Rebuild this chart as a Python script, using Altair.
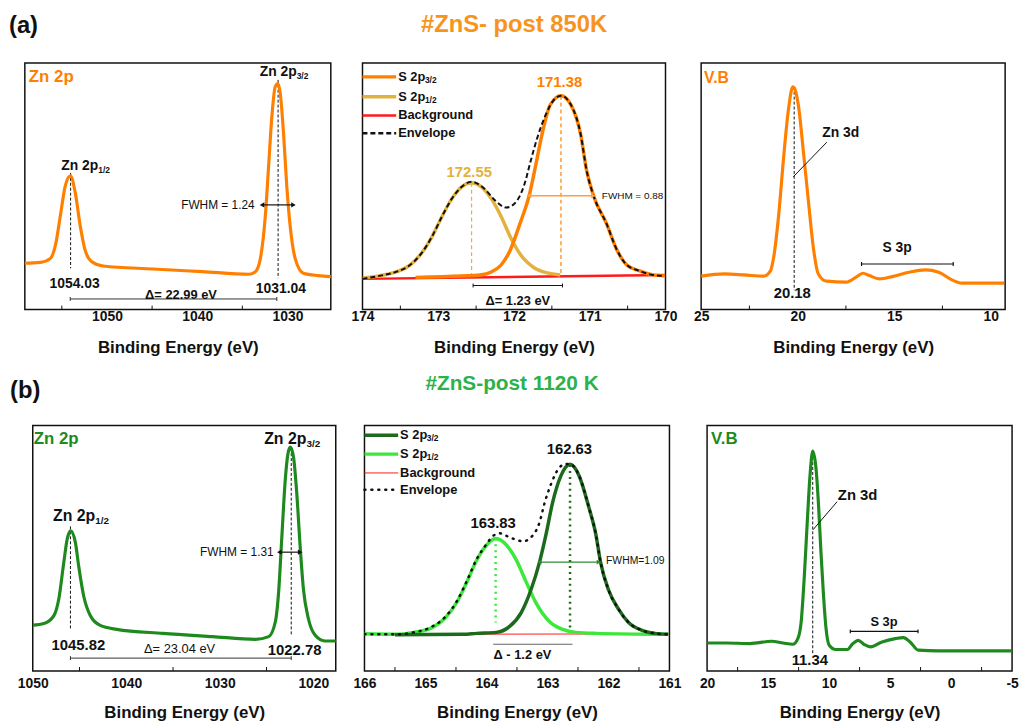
import altair as alt
import pandas as pd

FONT = "Liberation Sans"
BLACK = "#111111"
ORANGE = "#FF8000"
ORANGE_LT = "#F9A04A"
ORANGE_TITLE = "#F7941D"
GOLD = "#E3B13E"
RED = "#FF1A1A"
GREEN = "#1E8A1E"
GREEN_DK = "#1C6B1C"
GREEN_LT = "#3BE83B"
GREEN_TITLE = "#2BB24C"
AX_TITLE = "Binding Energy (eV)"

# ======================= DATA =======================
# ---- (a) #ZnS- post 850K : Zn 2p
a1_energy = [1059.56, 1057.36, 1056.26, 1055.71, 1055.16, 1054.62, 1054.05, 1053.52, 1052.97,
             1052.42, 1051.68, 1050.4, 1044.91, 1039.42, 1034.29, 1033.55, 1033.0, 1032.45,
             1032.09, 1031.73, 1031.36, 1031.06, 1030.8, 1030.44, 1030.08, 1029.71, 1029.15,
             1028.24, 1026.59, 1025.13]
a1_counts = [46.7, 47.7, 51.7, 65, 95, 125, 135, 118.3, 85, 60, 48.3, 44, 41, 38.3, 35.7, 38.3,
             51.7, 95, 145, 195, 225, 228.3, 218.3, 178.3, 125, 85, 51.7, 36.7, 34.3, 33.3]

# ---- (a) S 2p fit
a2_bg_energy = [174.0, 170.0]
a2_bg_counts = [31, 35]
a2_s32_energy = [170.01, 170.17, 170.34, 170.51, 170.64, 170.78, 170.95, 171.04, 171.12, 171.25,
                 171.38, 171.52, 171.63, 171.71, 171.80, 171.92, 172.05, 172.17, 172.30, 172.45,
                 172.69, 173.3]
a2_s32_counts = [34, 35, 39, 45, 60, 87, 115, 140, 177, 207, 216, 207, 177, 147, 115, 87, 60, 45,
                 38, 35, 34, 32.5]
a2_s12_energy = [171.39, 171.56, 171.73, 171.91, 172.04, 172.17, 172.30, 172.43, 172.56, 172.69,
                 172.82, 172.95, 173.08, 173.22, 173.39, 173.56, 173.78, 174.0]
a2_s12_counts = [35, 37, 42, 55, 72, 94, 112, 124, 128, 124, 112, 94, 74, 57, 44, 38, 34, 32]
a2_env_energy = [170.01, 170.17, 170.34, 170.51, 170.64, 170.78, 170.95, 171.04, 171.12, 171.25,
                 171.38, 171.47, 171.58, 171.69, 171.78, 171.86, 171.97, 172.10, 172.26, 172.39,
                 172.56, 172.69, 172.82, 172.95, 173.08, 173.22, 173.39, 173.56, 173.78, 174.0]
a2_env_counts = [34, 35, 39, 45, 60, 87, 115, 140, 177, 207, 216, 212, 197, 174, 150, 127, 109, 103,
                 111, 122, 129, 124, 112, 94, 74, 57, 44, 38, 34, 31]

# ---- (a) valence band
a3_energy = [25.0, 23.8, 22.78, 21.75, 21.41, 21.24, 20.98, 20.73, 20.47, 20.25, 20.18, 19.96,
             19.70, 19.44, 19.19, 18.93, 18.50, 17.48, 16.97, 16.62, 16.28, 15.77, 15.09, 14.23,
             13.38, 12.69, 12.01, 11.50, 10.47, 9.3]
a3_counts = [33.7, 36, 35, 33.7, 39, 53, 96, 153, 203, 225, 224, 206, 159, 109, 63, 36, 28.7,
             27.7, 32.7, 36.7, 34.3, 31, 33.3, 37.7, 40, 37.7, 30, 26.7, 26.7, 26.7]

# ---- (b) #ZnS-post 1120 K : Zn 2p
b1_energy = [1050.0, 1048.8, 1047.74, 1047.21, 1046.68, 1046.32, 1045.95, 1045.44, 1045.09,
             1044.56, 1043.85, 1042.79, 1041.02, 1036.08, 1030.78, 1026.18, 1024.77, 1024.06,
             1023.71, 1023.36, 1023.0, 1022.7, 1022.45, 1022.12, 1021.77, 1021.41, 1021.06,
             1020.53, 1019.82, 1018.76, 1017.5]
b1_counts = [46.3, 48, 56, 73, 109.7, 133, 141.5, 129.7, 106, 76, 56, 46, 42, 38, 34.7, 32, 34.7,
             49.7, 79.7, 136.3, 193, 220, 226, 216, 179.7, 126, 83, 53, 36.3, 30.3, 30.3]

# ---- (b) S 2p fit
b2_bg_energy = [166.0, 161.0]
b2_bg_counts = [37, 37.5]
b2_s32_energy = [161.02, 161.24, 161.45, 161.67, 161.83, 162.0, 162.13, 162.21, 162.32, 162.48,
                 162.63, 162.78, 162.92, 163.02, 163.13, 163.27, 163.43, 163.62, 163.84, 164.16,
                 164.38, 165.5]
b2_s32_counts = [37, 38, 41, 49, 62, 82, 110, 139, 165, 197, 208.7, 197, 169, 139, 110, 82, 59,
                 45, 39, 38, 37, 36.5]
b2_s12_energy = [161.02, 162.21, 162.54, 162.75, 162.97, 163.19, 163.35, 163.51, 163.67, 163.85,
                 164.0, 164.16, 164.32, 164.48, 164.67, 164.92, 165.19, 165.46, 166.0]
b2_s12_counts = [37, 38, 39, 42, 50, 69, 90, 112, 127, 133.7, 127, 112, 90, 70, 54, 43, 39, 37, 37.5]
b2_env_energy = [161.02, 161.24, 161.45, 161.67, 161.83, 162.0, 162.13, 162.21, 162.32, 162.48,
                 162.63, 162.70, 162.81, 162.94, 163.05, 163.13, 163.24, 163.40, 163.62, 163.78,
                 163.9, 164.0, 164.16, 164.32, 164.48, 164.67, 164.92, 165.19, 165.46, 166.0]
b2_env_counts = [37, 38, 41, 49, 62, 82, 110, 139, 165, 197, 209, 209, 205, 189, 169, 150, 137,
                 131, 135, 139, 136, 128, 113, 91, 71, 55, 44, 39, 37, 37]

# ---- (b) valence band
b3_energy = [20.0, 18.38, 16.48, 14.72, 13.78, 12.97, 12.56, 12.29, 12.02, 11.80, 11.56, 11.34,
             11.07, 10.85, 10.67, 10.48, 10.26, 9.99, 9.45, 8.50, 8.10, 7.61, 7.15, 6.61, 5.66,
             4.58, 3.90, 3.36, 2.68, 1.06, -1.65, -5.0]
b3_counts = [28.3, 28.3, 27.7, 30, 28.3, 27, 32.7, 49.3, 97.7, 147.7, 197.7, 222, 204.3, 164.3,
             121, 81, 44.3, 26, 21.7, 21.7, 27, 31, 27, 24.3, 29.3, 32.7, 33.7, 29.3, 21, 20.3,
             20.3, 20.3]

# tick values
a1_ticks, a1_minor = [1050, 1040, 1030], [1055, 1045, 1035]
a2_ticks, a2_minor = [174, 173, 172, 171, 170], [173.5, 172.5, 171.5, 170.5]
a3_ticks, a3_minor = [25, 20, 15, 10], [22.5, 17.5, 12.5]
b1_ticks, b1_minor = [1050, 1040, 1030, 1020], [1045, 1035, 1025]
b2_ticks, b2_minor = [166, 165, 164, 163, 162, 161], [165.5, 164.5, 163.5, 162.5, 161.5]
b3_ticks, b3_minor = [20, 15, 10, 5, 0, -5], [17.5, 12.5, 7.5, 2.5, -2.5]


# ======================= HELPERS =======================
class Panel:
    def __init__(self, w, h, lo, hi, ticks, minor, label_pad, title_pad):
        self.w, self.h = w, h
        self.sx = alt.Scale(domain=[lo, hi], reverse=True, nice=False, zero=False)
        self.sy = alt.Scale(domain=[0, h], nice=False, zero=False)
        self.ax = alt.Axis(values=ticks, title=AX_TITLE, labelExpr="'' + datum.value",
                           labelPadding=label_pad, titlePadding=title_pad)
        self.layers = [
            alt.Chart(pd.DataFrame({"E": minor})).mark_rule(color=BLACK, strokeWidth=1).encode(
                x=self.X(), y=alt.value(h), y2=alt.value(h - 4))
        ]

    def X(self, f="E"):
        return alt.X(f"{f}:Q", scale=self.sx, axis=self.ax)

    def Y(self, f="I"):
        return alt.Y(f"{f}:Q", scale=self.sy, axis=None)

    def curve(self, E, I, color, width=3.0, dash=None, interp="monotone", cap="butt"):
        kw = dict(color=color, strokeWidth=width, interpolate=interp, clip=True, strokeCap=cap)
        if dash:
            kw["strokeDash"] = dash
        self.layers.append(alt.Chart(pd.DataFrame({"E": E, "I": I})).mark_line(**kw).encode(
            x=self.X(), y=self.Y()))

    def vlines(self, E, top, bot, color, dash, width=1.0):
        df = pd.DataFrame({"E": E, "I": top, "I2": bot})
        self.layers.append(alt.Chart(df).mark_rule(color=color, strokeDash=dash, strokeWidth=width).encode(
            x=self.X(), y=self.Y(), y2="I2"))

    def seg(self, E1, I1, E2, I2, color, width=1.0):
        df = pd.DataFrame({"E": [E1], "I": [I1], "E2": [E2], "I2": [I2]})
        self.layers.append(alt.Chart(df).mark_rule(color=color, strokeWidth=width).encode(
            x=self.X(), y=self.Y(), x2="E2", y2="I2"))

    def hline(self, E1, E2, I, color, width=1.0, ends=0):
        self.seg(E1, I, E2, I, color, width)
        if ends:
            df = pd.DataFrame({"E": [E1, E2], "I": [I + ends] * 2, "I2": [I - ends] * 2})
            self.layers.append(alt.Chart(df).mark_rule(color=color, strokeWidth=width).encode(
                x=self.X(), y=self.Y(), y2="I2"))

    def arrow(self, E1, E2, I, color, width=1.2, size=28):
        self.hline(E1, E2, I, color, width)
        for e, shape in ((E1, "triangle-left"), (E2, "triangle-right")):
            df = pd.DataFrame({"E": [e], "I": [I]})
            self.layers.append(alt.Chart(df).mark_point(shape=shape, filled=True, size=size, color=color,
                                                        opacity=1).encode(x=self.X(), y=self.Y()))

    def text(self, t, E, I, size, color=BLACK, weight="bold", align="center", dy=0):
        df = pd.DataFrame({"E": E, "I": I, "t": t})
        kw = dict(font=FONT, fontSize=size, fontWeight=weight, color=color, align=align, baseline="middle")
        if dy:
            kw["dy"] = dy
        self.layers.append(alt.Chart(df).mark_text(**kw).encode(x=self.X(), y=self.Y(), text="t:N"))

    def label_sub(self, main, sub, E, I, size, subsize, color=BLACK):
        self.text(main, E, I, size, color=color, align="right")
        self.text(sub, E, I, subsize, color=color, align="left", dy=round(size * 0.3))

    def ptext(self, t, px, py, size, color=BLACK, weight="bold", align="left", dy=0):
        kw = dict(font=FONT, fontSize=size, fontWeight=weight, color=color, align=align, baseline="middle")
        if dy:
            kw["dy"] = dy
        self.layers.append(alt.Chart(pd.DataFrame({"t": [t]})).mark_text(**kw).encode(
            x=alt.value(px), y=alt.value(py), text="t:N"))

    def prule(self, x1, x2, py, color, width, dash=None, cap="butt"):
        kw = dict(color=color, strokeWidth=width, strokeCap=cap)
        if dash:
            kw["strokeDash"] = dash
        self.layers.append(alt.Chart(pd.DataFrame({"v": [0]})).mark_rule(**kw).encode(
            x=alt.value(x1), x2=alt.value(x2), y=alt.value(py)))

    def legend(self, rows, ys):
        for (main, sub, color, width, dash, cap), py in zip(rows, ys):
            self.prule(0, 34, py, color, width, dash, cap)
            self.ptext(main, 36, py, 13)
            if sub:
                self.ptext(sub, 63, py, 8.5, dy=3)

    def chart(self):
        return alt.layer(*self.layers).properties(width=self.w, height=self.h)


def spacer(w):
    return alt.Chart(pd.DataFrame({"v": [0]})).mark_point(opacity=0).encode(
        x=alt.value(0), y=alt.value(0)).properties(width=w, height=1, view=alt.ViewBackground(stroke="transparent"))


# ======================= ROW (a) =======================
HA = 249
LPA, TPA = 0, 16
a1 = Panel(309, HA, 1025.2, 1059.1, a1_ticks, a1_minor, LPA, TPA)
a1.vlines([1054.03, 1031.04], [138, 232], [41.7, 31.7], BLACK, [3, 2])
a1.curve(a1_energy, a1_counts, ORANGE, 3.2)
a1.label_sub("Zn 2p", "1/2", [1050.96], [145], 14, 8.5)
a1.label_sub("Zn 2p", "3/2", [1028.98], [240], 14, 8.5)
a1.text(["1054.03", "1031.04"], [1053.59, 1030.73], [26, 21], 14)
a1.hline(1054.07, 1031.18, 10.7, "#333333", 1, ends=2)
a1.text(["Δ= 22.99 eV"], [1041.8], [15], 13)
a1.text(["FWHM = 1.24"], [1033.63], [105.7], 12, weight="normal", align="right")
a1.arrow(1032.82, 1029.34, 105.7, BLACK)
a1.ptext("Zn 2p", 4, 14, 17, color=ORANGE)
a1.ptext("(a)", -16, -37, 24)

a2 = Panel(306, HA, 170.0, 174.0, a2_ticks, a2_minor, LPA, TPA)
a2.vlines([171.38], [216], [34], ORANGE, [4, 3], 1.2)
a2.vlines([172.56], [128], [35], GOLD, [4, 3], 1.2)
a2.curve(a2_bg_energy, a2_bg_counts, RED, 2.5, interp="linear")
a2.curve(a2_s12_energy, a2_s12_counts, GOLD, 3.5)
a2.curve(a2_s32_energy, a2_s32_counts, ORANGE, 3.5)
a2.curve(a2_env_energy, a2_env_counts, BLACK, 2, dash=[5, 3])
a2.text(["171.38"], [171.40], [230], 15, color=ORANGE)
a2.text(["172.55"], [172.59], [139], 15, color=GOLD)
a2.arrow(171.80, 170.95, 115, ORANGE_LT, 1.5)
a2.text(["FWHM = 0.88"], [170.84], [115], 10, weight="normal", align="left")
a2.hline(172.54, 171.36, 24.3, BLACK, 1, ends=2)
a2.text(["Δ= 1.23 eV"], [171.95], [9], 13)
a2.legend([("S 2p", "3/2", ORANGE, 3.5, None, "butt"),
           ("S 2p", "1/2", GOLD, 3.5, None, "butt"),
           ("Background", "", RED, 2.5, None, "butt"),
           ("Envelope", "", BLACK, 2.5, [5, 3], "butt")], [14, 34, 53, 71])
a2.ptext("#ZnS- post 850K", 153, -38.5, 24, color=ORANGE_TITLE, align="center")

a3 = Panel(307, HA, 9.25, 25.0, a3_ticks, a3_minor, LPA, TPA)
a3.vlines([20.18], [225], [19.5], BLACK, [3, 2])
a3.curve(a3_energy, a3_counts, ORANGE, 3.2)
a3.text(["20.18"], [20.28], [17], 15)
a3.seg(20.23, 134, 18.49, 169, BLACK, 1)
a3.text(["Zn 3d"], [17.77], [178], 14)
a3.hline(16.69, 11.94, 46, BLACK, 1.2, ends=2)
a3.text(["S 3p"], [14.85], [62], 14)
a3.ptext("V.B", 3, 15, 16, color=ORANGE)

rowA = alt.hconcat(a1.chart(), spacer(32), a2.chart(), spacer(36), a3.chart(), spacing=0, bounds="flush")

# ======================= ROW (b) =======================
HB = 248
LPB, TPB = 6, 14
b1 = Panel(306, HB, 1017.6, 1050.0, b1_ticks, b1_minor, LPB, TPB)
b1.vlines([1045.97, 1022.36], [146, 225], [41, 36], BLACK, [3, 2])
b1.curve(b1_energy, b1_counts, GREEN, 3.2)
b1.label_sub("Zn 2p", "1/2", [1043.32], [156], 16, 10)
b1.label_sub("Zn 2p", "3/2", [1020.74], [234], 16, 10)
b1.text(["1045.82", "1022.78"], [1045.12, 1022.0], [26, 21], 15)
b1.hline(1045.97, 1022.36, 13, "#333333", 1, ends=2)
b1.text(["Δ= 23.04 eV"], [1034.3], [22], 13, weight="normal")
b1.text(["FWHM = 1.31"], [1024.24], [120], 12, weight="normal", align="right")
b1.arrow(1023.63, 1021.41, 120, BLACK)
b1.ptext("Zn 2p", 1, 14, 17, color=GREEN)
b1.ptext("(b)", -23, -35, 24)

b2 = Panel(308, HB, 161.0, 166.0, b2_ticks, b2_minor, LPB, TPB)
b2.curve(b2_bg_energy, b2_bg_counts, RED, 1, interp="linear")
b2.vlines([163.85], [134], [49], GREEN_LT, [2, 4], 2.5)
b2.vlines([162.63], [208], [42], GREEN_DK, [2, 4], 2.5)
b2.curve(b2_s12_energy, b2_s12_counts, GREEN_LT, 3.5)
b2.curve(b2_s32_energy, b2_s32_counts, GREEN_DK, 3.5)
b2.curve(b2_env_energy, b2_env_counts, BLACK, 2.5, dash=[1, 6], cap="round")
b2.text(["162.63"], [162.64], [224], 15)
b2.text(["163.83"], [163.89], [149], 15)
b2.arrow(163.13, 162.16, 110, "#2E8B2E", 1.2, 22)
b2.text(["FWHM=1.09"], [162.04], [111], 10.5, weight="normal", align="left")
b2.hline(163.89, 162.59, 27, "#666666", 1.2)
b2.text(["Δ - 1.2 eV"], [163.41], [16], 13)
b2.legend([("S 2p", "3/2", GREEN_DK, 3.5, None, "butt"),
           ("S 2p", "1/2", GREEN_LT, 3.5, None, "butt"),
           ("Background", "", RED, 1, None, "butt"),
           ("Envelope", "", BLACK, 2.5, [1, 6], "round")], [10, 29, 48, 65])
b2.ptext("#ZnS-post 1120 K", 149, -42, 21, color=GREEN_TITLE, align="center")

b3 = Panel(308, HB, -5.0, 20.0, b3_ticks, b3_minor, LPB, TPB)
b3.vlines([11.34], [221], [18], BLACK, [3, 2])
b3.curve(b3_energy, b3_counts, GREEN, 3.2)
b3.text(["11.34"], [11.58], [11], 15)
b3.seg(11.31, 142.7, 9.34, 171, BLACK, 1)
b3.text(["Zn 3d"], [7.66], [177.7], 15)
b3.hline(8.26, 2.71, 40, BLACK, 1.2, ends=2)
b3.text(["S 3p"], [5.50], [49.3], 13)
b3.ptext("V.B", 4, 14, 17, color=GREEN)

rowB = alt.hconcat(spacer(8), b1.chart(), spacer(29), b2.chart(), spacer(38), b3.chart(),
                   spacing=0, bounds="flush")

chart = alt.vconcat(rowA, rowB, spacing=16, padding=0).configure_view(
    stroke=BLACK, strokeWidth=1.5
).configure_axis(
    grid=False, ticks=False, domain=False, labelFlush=False,
    labelFont=FONT, labelFontSize=14, labelFontWeight="bold", labelColor=BLACK,
    titleFont=FONT, titleFontSize=17, titleFontWeight="bold", titleColor=BLACK,
    labelOverlap=False
)

chart.save("out.html", embed_options={"renderer": "svg", "actions": False})
